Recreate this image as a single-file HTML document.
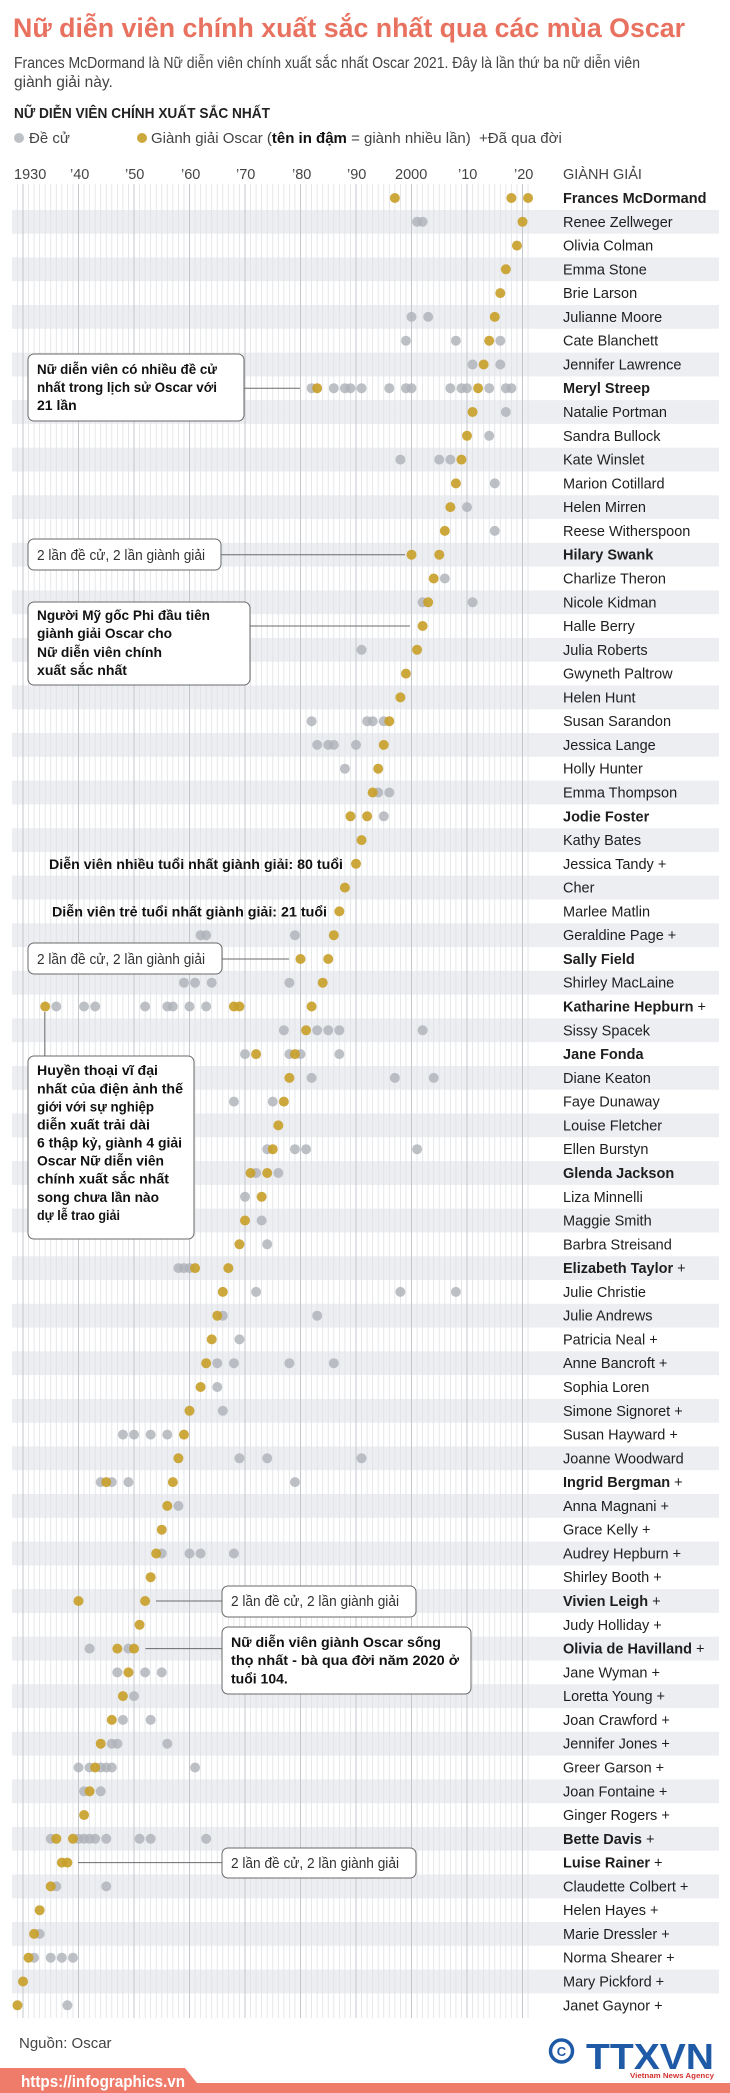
<!DOCTYPE html>
<html><head><meta charset="utf-8"><style>
html,body{margin:0;padding:0;background:#fff}
svg{display:block}
text{font-family:"Liberation Sans",sans-serif}
.g{fill:#c89e28;fill-opacity:.9}
.n{fill:#aeb2b8;fill-opacity:.82}
.nm{font-size:14.5px;fill:#1e1e1e}
.b{font-weight:bold}
.bx{fill:#fff;stroke:#6a6a6a;stroke-width:1}
.ln{stroke:#6a6a6a;stroke-width:1}
.at{font-size:14px;fill:#111;font-weight:bold}
.ar{font-size:14.5px;fill:#333}
</style></head><body>
<svg width="730" height="2093" viewBox="0 0 730 2093" xmlns="http://www.w3.org/2000/svg">
<rect width="730" height="2093" fill="#fff"/>
<text x="13" y="37" font-size="27" font-weight="bold" fill="#e8715f" textLength="672" lengthAdjust="spacingAndGlyphs">Nữ diễn viên chính xuất sắc nhất qua các mùa Oscar</text>
<text x="14" y="68" font-size="15.5" fill="#444" textLength="626" lengthAdjust="spacingAndGlyphs">Frances McDormand là Nữ diễn viên chính xuất sắc nhất Oscar 2021. Đây là lần thứ ba nữ diễn viên</text>
<text x="14" y="87" font-size="15.5" fill="#444">giành giải này.</text>
<text x="14" y="118" font-size="15" font-weight="bold" fill="#222" textLength="256" lengthAdjust="spacingAndGlyphs">NỮ DIỄN VIÊN CHÍNH XUẤT SẮC NHẤT</text>
<circle cx="19" cy="138" r="5" class="n"/>
<text x="29" y="143" font-size="15" fill="#444">Đề cử</text>
<circle cx="142" cy="138" r="5" class="g"/>
<text x="151" y="143" font-size="15" fill="#444">Giành giải Oscar (<tspan font-weight="bold" fill="#111">tên in đậm</tspan> = giành nhiều lần)</text>
<text x="479" y="143" font-size="15" fill="#444">+Đã qua đời</text>
<g font-size="14.5" fill="#444">
<text x="14" y="179">1930</text><text x="70" y="179">’40</text><text x="125" y="179">’50</text><text x="181" y="179">’60</text><text x="236" y="179">’70</text><text x="292" y="179">’80</text><text x="347" y="179">’90</text><text x="395" y="179">2000</text><text x="458" y="179">’10</text><text x="514" y="179">’20</text>
<text x="563" y="179">GIÀNH GIẢI</text>
</g>
<!-- stripes -->
<g fill="#eceef1">
<rect x="12" y="209.9" width="707" height="23.8"/><rect x="12" y="257.4" width="707" height="23.8"/><rect x="12" y="305" width="707" height="23.8"/><rect x="12" y="352.6" width="707" height="23.8"/><rect x="12" y="400.1" width="707" height="23.8"/><rect x="12" y="447.7" width="707" height="23.8"/><rect x="12" y="495.2" width="707" height="23.8"/><rect x="12" y="542.8" width="707" height="23.8"/><rect x="12" y="590.4" width="707" height="23.8"/><rect x="12" y="637.9" width="707" height="23.8"/><rect x="12" y="685.5" width="707" height="23.8"/><rect x="12" y="733" width="707" height="23.8"/><rect x="12" y="780.6" width="707" height="23.8"/><rect x="12" y="828.2" width="707" height="23.8"/><rect x="12" y="875.7" width="707" height="23.8"/><rect x="12" y="923.3" width="707" height="23.8"/><rect x="12" y="970.8" width="707" height="23.8"/><rect x="12" y="1018.4" width="707" height="23.8"/><rect x="12" y="1066" width="707" height="23.8"/><rect x="12" y="1113.5" width="707" height="23.8"/><rect x="12" y="1161.1" width="707" height="23.8"/><rect x="12" y="1208.6" width="707" height="23.8"/><rect x="12" y="1256.2" width="707" height="23.8"/><rect x="12" y="1303.8" width="707" height="23.8"/><rect x="12" y="1351.3" width="707" height="23.8"/><rect x="12" y="1398.9" width="707" height="23.8"/><rect x="12" y="1446.4" width="707" height="23.8"/><rect x="12" y="1494" width="707" height="23.8"/><rect x="12" y="1541.6" width="707" height="23.8"/><rect x="12" y="1589.1" width="707" height="23.8"/><rect x="12" y="1636.7" width="707" height="23.8"/><rect x="12" y="1684.2" width="707" height="23.8"/><rect x="12" y="1731.8" width="707" height="23.8"/><rect x="12" y="1779.4" width="707" height="23.8"/><rect x="12" y="1826.9" width="707" height="23.8"/><rect x="12" y="1874.5" width="707" height="23.8"/><rect x="12" y="1922" width="707" height="23.8"/><rect x="12" y="1969.6" width="707" height="23.8"/>
</g>
<!-- minor grid -->
<g stroke="#dfe2e5" stroke-width="0.8">
<path d="M17.45 184V2018M28.55 184V2018M34.1 184V2018M39.65 184V2018M45.2 184V2018M50.75 184V2018M56.3 184V2018M61.85 184V2018M67.4 184V2018M72.95 184V2018M84.05 184V2018M89.6 184V2018M95.15 184V2018M100.7 184V2018M106.25 184V2018M111.8 184V2018M117.35 184V2018M122.9 184V2018M128.45 184V2018M139.55 184V2018M145.1 184V2018M150.65 184V2018M156.2 184V2018M161.75 184V2018M167.3 184V2018M172.85 184V2018M178.4 184V2018M183.95 184V2018M195.05 184V2018M200.6 184V2018M206.15 184V2018M211.7 184V2018M217.25 184V2018M222.8 184V2018M228.35 184V2018M233.9 184V2018M239.45 184V2018M250.55 184V2018M256.1 184V2018M261.65 184V2018M267.2 184V2018M272.75 184V2018M278.3 184V2018M283.85 184V2018M289.4 184V2018M294.95 184V2018M306.05 184V2018M311.6 184V2018M317.15 184V2018M322.7 184V2018M328.25 184V2018M333.8 184V2018M339.35 184V2018M344.9 184V2018M350.45 184V2018M361.55 184V2018M367.1 184V2018M372.65 184V2018M378.2 184V2018M383.75 184V2018M389.3 184V2018M394.85 184V2018M400.4 184V2018M405.95 184V2018M417.05 184V2018M422.6 184V2018M428.15 184V2018M433.7 184V2018M439.25 184V2018M444.8 184V2018M450.35 184V2018M455.9 184V2018M461.45 184V2018M472.55 184V2018M478.1 184V2018M483.65 184V2018M489.2 184V2018M494.75 184V2018M500.3 184V2018M505.85 184V2018M511.4 184V2018M516.95 184V2018M528.05 184V2018"/>
</g>
<g stroke="#c3c7cc" stroke-width="1">
<path d="M23 184V2018M78.5 184V2018M134 184V2018M189.5 184V2018M245 184V2018M300.5 184V2018M356 184V2018M411.5 184V2018M467 184V2018M522.5 184V2018"/>
</g>
<!-- annotation lines -->
<g class="ln">
<path d="M244 388.2H300"/><path d="M221 554.7H405"/><path d="M250 626H410"/><path d="M222 959H289"/><path d="M44.8 1012V1056"/><path d="M156 1601H222"/><path d="M145.5 1648.6H222"/><path d="M78 1862.6H222"/>
</g>
<!-- dots -->
<g transform="translate(0,198)"><circle cx="394.85" r="5" class="g"/><circle cx="511.4" r="5" class="g"/><circle cx="528.05" r="5" class="g"/></g>
<g transform="translate(0,221.8)"><circle cx="417.05" r="5" class="n"/><circle cx="422.6" r="5" class="n"/><circle cx="522.5" r="5" class="g"/></g>
<g transform="translate(0,245.6)"><circle cx="516.95" r="5" class="g"/></g>
<g transform="translate(0,269.3)"><circle cx="505.85" r="5" class="g"/></g>
<g transform="translate(0,293.1)"><circle cx="500.3" r="5" class="g"/></g>
<g transform="translate(0,316.9)"><circle cx="411.5" r="5" class="n"/><circle cx="428.15" r="5" class="n"/><circle cx="494.75" r="5" class="g"/></g>
<g transform="translate(0,340.7)"><circle cx="405.95" r="5" class="n"/><circle cx="455.9" r="5" class="n"/><circle cx="500.3" r="5" class="n"/><circle cx="489.2" r="5" class="g"/></g>
<g transform="translate(0,364.5)"><circle cx="472.55" r="5" class="n"/><circle cx="500.3" r="5" class="n"/><circle cx="483.65" r="5" class="g"/></g>
<g transform="translate(0,388.2)"><circle cx="311.6" r="5" class="n"/><circle cx="333.8" r="5" class="n"/><circle cx="344.9" r="5" class="n"/><circle cx="350.45" r="5" class="n"/><circle cx="361.55" r="5" class="n"/><circle cx="389.3" r="5" class="n"/><circle cx="405.95" r="5" class="n"/><circle cx="411.5" r="5" class="n"/><circle cx="450.35" r="5" class="n"/><circle cx="461.45" r="5" class="n"/><circle cx="467" r="5" class="n"/><circle cx="489.2" r="5" class="n"/><circle cx="505.85" r="5" class="n"/><circle cx="511.4" r="5" class="n"/><circle cx="317.15" r="5" class="g"/><circle cx="478.1" r="5" class="g"/></g>
<g transform="translate(0,412)"><circle cx="505.85" r="5" class="n"/><circle cx="472.55" r="5" class="g"/></g>
<g transform="translate(0,435.8)"><circle cx="489.2" r="5" class="n"/><circle cx="467" r="5" class="g"/></g>
<g transform="translate(0,459.6)"><circle cx="400.4" r="5" class="n"/><circle cx="439.25" r="5" class="n"/><circle cx="450.35" r="5" class="n"/><circle cx="461.45" r="5" class="g"/></g>
<g transform="translate(0,483.4)"><circle cx="494.75" r="5" class="n"/><circle cx="455.9" r="5" class="g"/></g>
<g transform="translate(0,507.1)"><circle cx="467" r="5" class="n"/><circle cx="450.35" r="5" class="g"/></g>
<g transform="translate(0,530.9)"><circle cx="494.75" r="5" class="n"/><circle cx="444.8" r="5" class="g"/></g>
<g transform="translate(0,554.7)"><circle cx="411.5" r="5" class="g"/><circle cx="439.25" r="5" class="g"/></g>
<g transform="translate(0,578.5)"><circle cx="444.8" r="5" class="n"/><circle cx="433.7" r="5" class="g"/></g>
<g transform="translate(0,602.3)"><circle cx="422.6" r="5" class="n"/><circle cx="472.55" r="5" class="n"/><circle cx="428.15" r="5" class="g"/></g>
<g transform="translate(0,626)"><circle cx="422.6" r="5" class="g"/></g>
<g transform="translate(0,649.8)"><circle cx="361.55" r="5" class="n"/><circle cx="417.05" r="5" class="g"/></g>
<g transform="translate(0,673.6)"><circle cx="405.95" r="5" class="g"/></g>
<g transform="translate(0,697.4)"><circle cx="400.4" r="5" class="g"/></g>
<g transform="translate(0,721.2)"><circle cx="311.6" r="5" class="n"/><circle cx="367.1" r="5" class="n"/><circle cx="372.65" r="5" class="n"/><circle cx="383.75" r="5" class="n"/><circle cx="389.3" r="5" class="g"/></g>
<g transform="translate(0,744.9)"><circle cx="317.15" r="5" class="n"/><circle cx="328.25" r="5" class="n"/><circle cx="333.8" r="5" class="n"/><circle cx="356" r="5" class="n"/><circle cx="383.75" r="5" class="g"/></g>
<g transform="translate(0,768.7)"><circle cx="344.9" r="5" class="n"/><circle cx="378.2" r="5" class="g"/></g>
<g transform="translate(0,792.5)"><circle cx="378.2" r="5" class="n"/><circle cx="389.3" r="5" class="n"/><circle cx="372.65" r="5" class="g"/></g>
<g transform="translate(0,816.3)"><circle cx="383.75" r="5" class="n"/><circle cx="350.45" r="5" class="g"/><circle cx="367.1" r="5" class="g"/></g>
<g transform="translate(0,840.1)"><circle cx="361.55" r="5" class="g"/></g>
<g transform="translate(0,863.8)"><circle cx="356" r="5" class="g"/></g>
<g transform="translate(0,887.6)"><circle cx="344.9" r="5" class="g"/></g>
<g transform="translate(0,911.4)"><circle cx="339.35" r="5" class="g"/></g>
<g transform="translate(0,935.2)"><circle cx="200.6" r="5" class="n"/><circle cx="206.15" r="5" class="n"/><circle cx="294.95" r="5" class="n"/><circle cx="333.8" r="5" class="g"/></g>
<g transform="translate(0,959)"><circle cx="300.5" r="5" class="g"/><circle cx="328.25" r="5" class="g"/></g>
<g transform="translate(0,982.7)"><circle cx="183.95" r="5" class="n"/><circle cx="195.05" r="5" class="n"/><circle cx="211.7" r="5" class="n"/><circle cx="289.4" r="5" class="n"/><circle cx="322.7" r="5" class="g"/></g>
<g transform="translate(0,1006.5)"><circle cx="56.3" r="5" class="n"/><circle cx="84.05" r="5" class="n"/><circle cx="95.15" r="5" class="n"/><circle cx="145.1" r="5" class="n"/><circle cx="167.3" r="5" class="n"/><circle cx="172.85" r="5" class="n"/><circle cx="189.5" r="5" class="n"/><circle cx="206.15" r="5" class="n"/><circle cx="45.2" r="5" class="g"/><circle cx="233.9" r="5" class="g"/><circle cx="239.45" r="5" class="g"/><circle cx="311.6" r="5" class="g"/></g>
<g transform="translate(0,1030.3)"><circle cx="283.85" r="5" class="n"/><circle cx="317.15" r="5" class="n"/><circle cx="328.25" r="5" class="n"/><circle cx="339.35" r="5" class="n"/><circle cx="422.6" r="5" class="n"/><circle cx="306.05" r="5" class="g"/></g>
<g transform="translate(0,1054.1)"><circle cx="245" r="5" class="n"/><circle cx="289.4" r="5" class="n"/><circle cx="300.5" r="5" class="n"/><circle cx="339.35" r="5" class="n"/><circle cx="256.1" r="5" class="g"/><circle cx="294.95" r="5" class="g"/></g>
<g transform="translate(0,1077.9)"><circle cx="311.6" r="5" class="n"/><circle cx="394.85" r="5" class="n"/><circle cx="433.7" r="5" class="n"/><circle cx="289.4" r="5" class="g"/></g>
<g transform="translate(0,1101.6)"><circle cx="233.9" r="5" class="n"/><circle cx="272.75" r="5" class="n"/><circle cx="283.85" r="5" class="g"/></g>
<g transform="translate(0,1125.4)"><circle cx="278.3" r="5" class="g"/></g>
<g transform="translate(0,1149.2)"><circle cx="267.2" r="5" class="n"/><circle cx="294.95" r="5" class="n"/><circle cx="306.05" r="5" class="n"/><circle cx="417.05" r="5" class="n"/><circle cx="272.75" r="5" class="g"/></g>
<g transform="translate(0,1173)"><circle cx="256.1" r="5" class="n"/><circle cx="278.3" r="5" class="n"/><circle cx="250.55" r="5" class="g"/><circle cx="267.2" r="5" class="g"/></g>
<g transform="translate(0,1196.8)"><circle cx="245" r="5" class="n"/><circle cx="261.65" r="5" class="g"/></g>
<g transform="translate(0,1220.5)"><circle cx="261.65" r="5" class="n"/><circle cx="245" r="5" class="g"/></g>
<g transform="translate(0,1244.3)"><circle cx="267.2" r="5" class="n"/><circle cx="239.45" r="5" class="g"/></g>
<g transform="translate(0,1268.1)"><circle cx="178.4" r="5" class="n"/><circle cx="183.95" r="5" class="n"/><circle cx="189.5" r="5" class="n"/><circle cx="195.05" r="5" class="g"/><circle cx="228.35" r="5" class="g"/></g>
<g transform="translate(0,1291.9)"><circle cx="256.1" r="5" class="n"/><circle cx="400.4" r="5" class="n"/><circle cx="455.9" r="5" class="n"/><circle cx="222.8" r="5" class="g"/></g>
<g transform="translate(0,1315.7)"><circle cx="222.8" r="5" class="n"/><circle cx="317.15" r="5" class="n"/><circle cx="217.25" r="5" class="g"/></g>
<g transform="translate(0,1339.4)"><circle cx="239.45" r="5" class="n"/><circle cx="211.7" r="5" class="g"/></g>
<g transform="translate(0,1363.2)"><circle cx="217.25" r="5" class="n"/><circle cx="233.9" r="5" class="n"/><circle cx="289.4" r="5" class="n"/><circle cx="333.8" r="5" class="n"/><circle cx="206.15" r="5" class="g"/></g>
<g transform="translate(0,1387)"><circle cx="217.25" r="5" class="n"/><circle cx="200.6" r="5" class="g"/></g>
<g transform="translate(0,1410.8)"><circle cx="222.8" r="5" class="n"/><circle cx="189.5" r="5" class="g"/></g>
<g transform="translate(0,1434.6)"><circle cx="122.9" r="5" class="n"/><circle cx="134" r="5" class="n"/><circle cx="150.65" r="5" class="n"/><circle cx="167.3" r="5" class="n"/><circle cx="183.95" r="5" class="g"/></g>
<g transform="translate(0,1458.3)"><circle cx="239.45" r="5" class="n"/><circle cx="267.2" r="5" class="n"/><circle cx="361.55" r="5" class="n"/><circle cx="178.4" r="5" class="g"/></g>
<g transform="translate(0,1482.1)"><circle cx="100.7" r="5" class="n"/><circle cx="111.8" r="5" class="n"/><circle cx="128.45" r="5" class="n"/><circle cx="294.95" r="5" class="n"/><circle cx="106.25" r="5" class="g"/><circle cx="172.85" r="5" class="g"/></g>
<g transform="translate(0,1505.9)"><circle cx="178.4" r="5" class="n"/><circle cx="167.3" r="5" class="g"/></g>
<g transform="translate(0,1529.7)"><circle cx="161.75" r="5" class="g"/></g>
<g transform="translate(0,1553.5)"><circle cx="161.75" r="5" class="n"/><circle cx="189.5" r="5" class="n"/><circle cx="200.6" r="5" class="n"/><circle cx="233.9" r="5" class="n"/><circle cx="156.2" r="5" class="g"/></g>
<g transform="translate(0,1577.2)"><circle cx="150.65" r="5" class="g"/></g>
<g transform="translate(0,1601)"><circle cx="78.5" r="5" class="g"/><circle cx="145.1" r="5" class="g"/></g>
<g transform="translate(0,1624.8)"><circle cx="139.55" r="5" class="g"/></g>
<g transform="translate(0,1648.6)"><circle cx="89.6" r="5" class="n"/><circle cx="128.45" r="5" class="n"/><circle cx="117.35" r="5" class="g"/><circle cx="134" r="5" class="g"/></g>
<g transform="translate(0,1672.4)"><circle cx="117.35" r="5" class="n"/><circle cx="145.1" r="5" class="n"/><circle cx="161.75" r="5" class="n"/><circle cx="128.45" r="5" class="g"/></g>
<g transform="translate(0,1696.1)"><circle cx="134" r="5" class="n"/><circle cx="122.9" r="5" class="g"/></g>
<g transform="translate(0,1719.9)"><circle cx="122.9" r="5" class="n"/><circle cx="150.65" r="5" class="n"/><circle cx="111.8" r="5" class="g"/></g>
<g transform="translate(0,1743.7)"><circle cx="111.8" r="5" class="n"/><circle cx="117.35" r="5" class="n"/><circle cx="167.3" r="5" class="n"/><circle cx="100.7" r="5" class="g"/></g>
<g transform="translate(0,1767.5)"><circle cx="78.5" r="5" class="n"/><circle cx="89.6" r="5" class="n"/><circle cx="100.7" r="5" class="n"/><circle cx="106.25" r="5" class="n"/><circle cx="111.8" r="5" class="n"/><circle cx="195.05" r="5" class="n"/><circle cx="95.15" r="5" class="g"/></g>
<g transform="translate(0,1791.3)"><circle cx="84.05" r="5" class="n"/><circle cx="100.7" r="5" class="n"/><circle cx="89.6" r="5" class="g"/></g>
<g transform="translate(0,1815)"><circle cx="84.05" r="5" class="g"/></g>
<g transform="translate(0,1838.8)"><circle cx="50.75" r="5" class="n"/><circle cx="78.5" r="5" class="n"/><circle cx="84.05" r="5" class="n"/><circle cx="89.6" r="5" class="n"/><circle cx="95.15" r="5" class="n"/><circle cx="106.25" r="5" class="n"/><circle cx="139.55" r="5" class="n"/><circle cx="150.65" r="5" class="n"/><circle cx="206.15" r="5" class="n"/><circle cx="56.3" r="5" class="g"/><circle cx="72.95" r="5" class="g"/></g>
<g transform="translate(0,1862.6)"><circle cx="61.85" r="5" class="g"/><circle cx="67.4" r="5" class="g"/></g>
<g transform="translate(0,1886.4)"><circle cx="56.3" r="5" class="n"/><circle cx="106.25" r="5" class="n"/><circle cx="50.75" r="5" class="g"/></g>
<g transform="translate(0,1910.2)"><circle cx="39.65" r="5" class="g"/></g>
<g transform="translate(0,1933.9)"><circle cx="39.65" r="5" class="n"/><circle cx="34.1" r="5" class="g"/></g>
<g transform="translate(0,1957.7)"><circle cx="34.1" r="5" class="n"/><circle cx="50.75" r="5" class="n"/><circle cx="61.85" r="5" class="n"/><circle cx="72.95" r="5" class="n"/><circle cx="28.55" r="5" class="g"/></g>
<g transform="translate(0,1981.5)"><circle cx="23" r="5" class="g"/></g>
<g transform="translate(0,2005.3)"><circle cx="67.4" r="5" class="n"/><circle cx="17.45" r="5" class="g"/></g>
<!-- names -->
<g class="nm">
<text x="563" y="203" class="b">Frances McDormand</text>
<text x="563" y="226.8">Renee Zellweger</text>
<text x="563" y="250.6">Olivia Colman</text>
<text x="563" y="274.3">Emma Stone</text>
<text x="563" y="298.1">Brie Larson</text>
<text x="563" y="321.9">Julianne Moore</text>
<text x="563" y="345.7">Cate Blanchett</text>
<text x="563" y="369.5">Jennifer Lawrence</text>
<text x="563" y="393.2" class="b">Meryl Streep</text>
<text x="563" y="417">Natalie Portman</text>
<text x="563" y="440.8">Sandra Bullock</text>
<text x="563" y="464.6">Kate Winslet</text>
<text x="563" y="488.4">Marion Cotillard</text>
<text x="563" y="512.1">Helen Mirren</text>
<text x="563" y="535.9">Reese Witherspoon</text>
<text x="563" y="559.7" class="b">Hilary Swank</text>
<text x="563" y="583.5">Charlize Theron</text>
<text x="563" y="607.3">Nicole Kidman</text>
<text x="563" y="631">Halle Berry</text>
<text x="563" y="654.8">Julia Roberts</text>
<text x="563" y="678.6">Gwyneth Paltrow</text>
<text x="563" y="702.4">Helen Hunt</text>
<text x="563" y="726.2">Susan Sarandon</text>
<text x="563" y="749.9">Jessica Lange</text>
<text x="563" y="773.7">Holly Hunter</text>
<text x="563" y="797.5">Emma Thompson</text>
<text x="563" y="821.3" class="b">Jodie Foster</text>
<text x="563" y="845.1">Kathy Bates</text>
<text x="563" y="868.8">Jessica Tandy +</text>
<text x="563" y="892.6">Cher</text>
<text x="563" y="916.4">Marlee Matlin</text>
<text x="563" y="940.2">Geraldine Page +</text>
<text x="563" y="964" class="b">Sally Field</text>
<text x="563" y="987.7">Shirley MacLaine</text>
<text x="563" y="1011.5"><tspan class="b">Katharine Hepburn</tspan> +</text>
<text x="563" y="1035.3">Sissy Spacek</text>
<text x="563" y="1059.1" class="b">Jane Fonda</text>
<text x="563" y="1082.9">Diane Keaton</text>
<text x="563" y="1106.6">Faye Dunaway</text>
<text x="563" y="1130.4">Louise Fletcher</text>
<text x="563" y="1154.2">Ellen Burstyn</text>
<text x="563" y="1178" class="b">Glenda Jackson</text>
<text x="563" y="1201.8">Liza Minnelli</text>
<text x="563" y="1225.5">Maggie Smith</text>
<text x="563" y="1249.3">Barbra Streisand</text>
<text x="563" y="1273.1"><tspan class="b">Elizabeth Taylor</tspan> +</text>
<text x="563" y="1296.9">Julie Christie</text>
<text x="563" y="1320.7">Julie Andrews</text>
<text x="563" y="1344.4">Patricia Neal +</text>
<text x="563" y="1368.2">Anne Bancroft +</text>
<text x="563" y="1392">Sophia Loren</text>
<text x="563" y="1415.8">Simone Signoret +</text>
<text x="563" y="1439.6">Susan Hayward +</text>
<text x="563" y="1463.3">Joanne Woodward</text>
<text x="563" y="1487.1"><tspan class="b">Ingrid Bergman</tspan> +</text>
<text x="563" y="1510.9">Anna Magnani +</text>
<text x="563" y="1534.7">Grace Kelly +</text>
<text x="563" y="1558.5">Audrey Hepburn +</text>
<text x="563" y="1582.2">Shirley Booth +</text>
<text x="563" y="1606"><tspan class="b">Vivien Leigh</tspan> +</text>
<text x="563" y="1629.8">Judy Holliday +</text>
<text x="563" y="1653.6"><tspan class="b">Olivia de Havilland</tspan> +</text>
<text x="563" y="1677.4">Jane Wyman +</text>
<text x="563" y="1701.1">Loretta Young +</text>
<text x="563" y="1724.9">Joan Crawford +</text>
<text x="563" y="1748.7">Jennifer Jones +</text>
<text x="563" y="1772.5">Greer Garson +</text>
<text x="563" y="1796.3">Joan Fontaine +</text>
<text x="563" y="1820">Ginger Rogers +</text>
<text x="563" y="1843.8"><tspan class="b">Bette Davis</tspan> +</text>
<text x="563" y="1867.6"><tspan class="b">Luise Rainer</tspan> +</text>
<text x="563" y="1891.4">Claudette Colbert +</text>
<text x="563" y="1915.2">Helen Hayes +</text>
<text x="563" y="1938.9">Marie Dressler +</text>
<text x="563" y="1962.7">Norma Shearer +</text>
<text x="563" y="1986.5">Mary Pickford +</text>
<text x="563" y="2010.3">Janet Gaynor +</text>
</g>
<!-- annotation boxes -->
<rect class="bx" x="28" y="354" width="216" height="67" rx="6"/>
<text class="at" x="37" y="374" textLength="180" lengthAdjust="spacingAndGlyphs">Nữ diễn viên có nhiều đề cử</text>
<text class="at" x="37" y="392" textLength="180" lengthAdjust="spacingAndGlyphs">nhất trong lịch sử Oscar với</text>
<text class="at" x="37" y="410">21 lần</text>

<rect class="bx" x="28" y="539" width="193" height="31" rx="6"/>
<text class="ar" x="37" y="560" textLength="168" lengthAdjust="spacingAndGlyphs">2 lần đề cử, 2 lần giành giải</text>

<rect class="bx" x="28" y="602" width="222" height="83" rx="6"/>
<text class="at" x="37" y="620" textLength="173" lengthAdjust="spacingAndGlyphs">Người Mỹ gốc Phi đầu tiên</text>
<text class="at" x="37" y="638" textLength="135" lengthAdjust="spacingAndGlyphs">giành giải Oscar cho</text>
<text class="at" x="37" y="657" textLength="125" lengthAdjust="spacingAndGlyphs">Nữ diễn viên chính</text>
<text class="at" x="37" y="675" textLength="90" lengthAdjust="spacingAndGlyphs">xuất sắc nhất</text>

<text class="at" x="343" y="868.8" text-anchor="end" textLength="294" lengthAdjust="spacingAndGlyphs">Diễn viên nhiều tuổi nhất giành giải: 80 tuổi</text>
<text class="at" x="327" y="916.4" text-anchor="end" textLength="275" lengthAdjust="spacingAndGlyphs">Diễn viên trẻ tuổi nhất giành giải: 21 tuổi</text>

<rect class="bx" x="28" y="943" width="194" height="31" rx="6"/>
<text class="ar" x="37" y="964" textLength="168" lengthAdjust="spacingAndGlyphs">2 lần đề cử, 2 lần giành giải</text>

<rect class="bx" x="28" y="1056" width="166" height="183" rx="6"/>
<text class="at" x="37" y="1075" textLength="121" lengthAdjust="spacingAndGlyphs">Huyền thoại vĩ đại</text>
<text class="at" x="37" y="1093.3" textLength="146" lengthAdjust="spacingAndGlyphs">nhất của điện ảnh thế</text>
<text class="at" x="37" y="1111.7" textLength="117" lengthAdjust="spacingAndGlyphs">giới với sự nghiệp</text>
<text class="at" x="37" y="1129.7" textLength="113" lengthAdjust="spacingAndGlyphs">diễn xuất trải dài</text>
<text class="at" x="37" y="1147.7" textLength="145" lengthAdjust="spacingAndGlyphs">6 thập kỷ, giành 4 giải</text>
<text class="at" x="37" y="1165.7" textLength="127" lengthAdjust="spacingAndGlyphs">Oscar Nữ diễn viên</text>
<text class="at" x="37" y="1183.7" textLength="132" lengthAdjust="spacingAndGlyphs">chính xuất sắc nhất</text>
<text class="at" x="37" y="1202" textLength="122" lengthAdjust="spacingAndGlyphs">song chưa lần nào</text>
<text class="at" x="37" y="1220" textLength="83" lengthAdjust="spacingAndGlyphs">dự lễ trao giải</text>

<rect class="bx" x="222" y="1586" width="194" height="31" rx="6"/>
<text class="ar" x="231" y="1606" textLength="168" lengthAdjust="spacingAndGlyphs">2 lần đề cử, 2 lần giành giải</text>

<rect class="bx" x="222" y="1627" width="249" height="67" rx="6"/>
<text class="at" x="231" y="1647" textLength="210" lengthAdjust="spacingAndGlyphs">Nữ diễn viên giành Oscar sống</text>
<text class="at" x="231" y="1665" textLength="228" lengthAdjust="spacingAndGlyphs">thọ nhất - bà qua đời năm 2020 ở</text>
<text class="at" x="231" y="1683.5">tuổi 104.</text>

<rect class="bx" x="222" y="1848" width="194" height="30" rx="6"/>
<text class="ar" x="231" y="1868" textLength="168" lengthAdjust="spacingAndGlyphs">2 lần đề cử, 2 lần giành giải</text>

<!-- footer -->
<text x="19" y="2048" font-size="15" fill="#444">Nguồn: Oscar</text>
<circle cx="561.5" cy="2051" r="11" fill="none" stroke="#1f5aa6" stroke-width="3.5"/>
<text x="561.5" y="2056" font-size="13" font-weight="bold" fill="#1f5aa6" text-anchor="middle">C</text>
<text x="586" y="2069" font-size="36" font-weight="bold" fill="#1f5aa6" textLength="128" lengthAdjust="spacingAndGlyphs">TTXVN</text>
<text x="630" y="2078" font-size="7.5" font-weight="bold" fill="#d2312f" textLength="84" lengthAdjust="spacingAndGlyphs">Vietnam News Agency</text>
<polygon points="0,2068 185,2068 197,2083 730,2083 730,2093 0,2093" fill="#ef7b6b"/>
<text x="21" y="2087" font-size="17" font-weight="bold" fill="#fff" textLength="164" lengthAdjust="spacingAndGlyphs">https://infographics.vn</text>
</svg>
</body></html>
